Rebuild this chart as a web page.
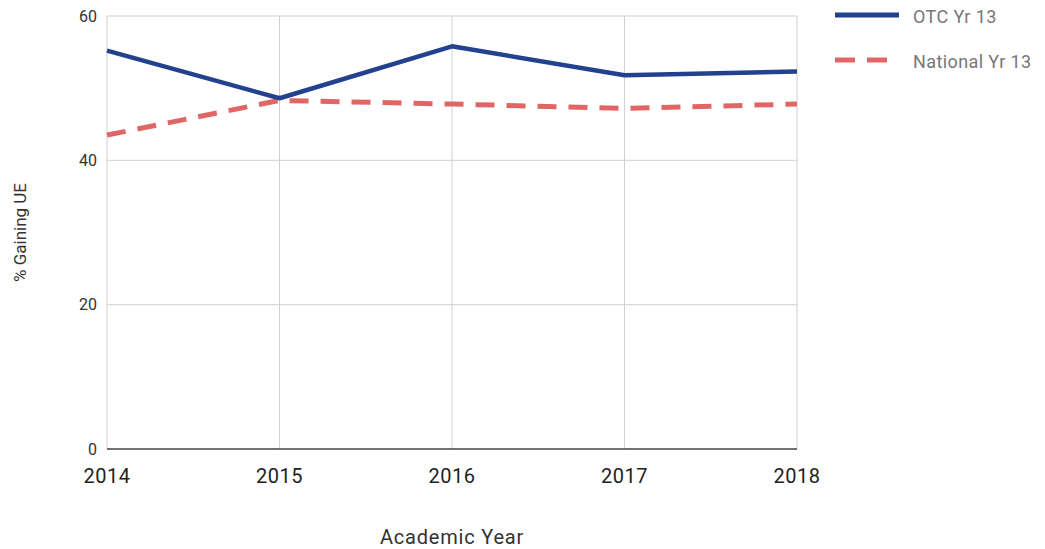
<!DOCTYPE html>
<html>
<head>
<meta charset="utf-8">
<script src="https://cdn.jsdelivr.net/npm/d3@7"></script>
<style>
body { margin: 0; background: #fff; }
text { font-family: Roboto, "Noto Sans", sans-serif; }
</style>
</head>
<body>
<div id="chart"></div>
<script>
const years = [2014, 2015, 2016, 2017, 2018];
const otcYr13 = [55.2, 48.6, 55.8, 51.8, 52.3];
const nationalYr13 = [43.5, 48.3, 47.8, 47.2, 47.8];
const yTicks = [0, 20, 40, 60];

const size = { w: 1045, h: 549 };
const margin = { t: 16, r: 248, b: 100, l: 107 };

const svg = d3
	.select("#chart")
	.append("svg")
	.attr("width", size.w)
	.attr("height", size.h);

const x = d3
	.scalePoint()
	.domain(years)
	.range([margin.l, size.w - margin.r]);
const y = d3
	.scaleLinear()
	.domain([0, 60])
	.range([size.h - margin.b, margin.t]);

// grid
svg.append("g")
	.selectAll("line")
	.data(yTicks.filter((d) => d !== 0))
	.join("line")
	.attr("x1", margin.l)
	.attr("x2", size.w - margin.r)
	.attr("y1", (d) => y(d))
	.attr("y2", (d) => y(d))
	.attr("stroke", "#d0d0d0");
svg.append("g")
	.selectAll("line")
	.data(years)
	.join("line")
	.attr("x1", (d) => x(d))
	.attr("x2", (d) => x(d))
	.attr("y1", y(60))
	.attr("y2", y(0))
	.attr("stroke", "#d0d0d0");
svg.append("line")
	.attr("x1", margin.l)
	.attr("x2", size.w - margin.r)
	.attr("y1", y(0))
	.attr("y2", y(0))
	.attr("stroke", "#444")
	.attr("stroke-width", 1.5);

// tick labels
svg.append("g")
	.selectAll("text")
	.data(yTicks)
	.join("text")
	.attr("x", margin.l - 10)
	.attr("y", (d) => y(d))
	.attr("dy", "0.35em")
	.attr("text-anchor", "end")
	.attr("font-size", 16)
	.attr("fill", "#333")
	.text((d) => d);
svg.append("g")
	.selectAll("text")
	.data(years)
	.join("text")
	.attr("x", (d) => x(d))
	.attr("y", y(0) + 34)
	.attr("text-anchor", "middle")
	.attr("font-size", 20)
	.attr("letter-spacing", 0.5)
	.attr("fill", "#222")
	.text((d) => d);

// axis titles
svg.append("text")
	.attr("x", (x(2014) + x(2018)) / 2)
	.attr("y", 544)
	.attr("text-anchor", "middle")
	.attr("font-size", 20)
	.attr("letter-spacing", 0.8)
	.attr("fill", "#333")
	.text("Academic Year");
svg.append("text")
	.attr("transform", `translate(26, ${(y(0) + y(60)) / 2}) rotate(-90)`)
	.attr("text-anchor", "middle")
	.attr("font-size", 17)
	.attr("fill", "#333")
	.text("% Gaining UE");

const line = d3
	.line()
	.x((d, i) => x(years[i]))
	.y((d) => y(d));

svg.append("path")
	.datum(nationalYr13)
	.attr("d", line)
	.attr("fill", "none")
	.attr("stroke", "#e06666")
	.attr("stroke-width", 5)
	.attr("stroke-dasharray", "19 12");
svg.append("path")
	.datum(otcYr13)
	.attr("d", line)
	.attr("fill", "none")
	.attr("stroke", "#22418f")
	.attr("stroke-width", 4.5)
	.attr("stroke-linejoin", "round");

// legend
const legend = [
	{ name: "OTC Yr 13", color: "#22418f", dash: null },
	{ name: "National Yr 13", color: "#e06666", dash: "20 12" },
];
const lg = svg
	.append("g")
	.selectAll("g")
	.data(legend)
	.join("g")
	.attr("transform", (d, i) => `translate(835, ${15 + i * 45})`);
lg.append("line")
	.attr("x1", 0)
	.attr("x2", 64)
	.attr("stroke", (d) => d.color)
	.attr("stroke-width", 5)
	.attr("stroke-dasharray", (d) => d.dash);
lg.append("text")
	.attr("x", 78)
	.attr("y", 2)
	.attr("dy", "0.35em")
	.attr("font-size", 18)
	.attr("letter-spacing", 0.4)
	.attr("fill", "#777")
	.text((d) => d.name);
</script>
</body>
</html>
